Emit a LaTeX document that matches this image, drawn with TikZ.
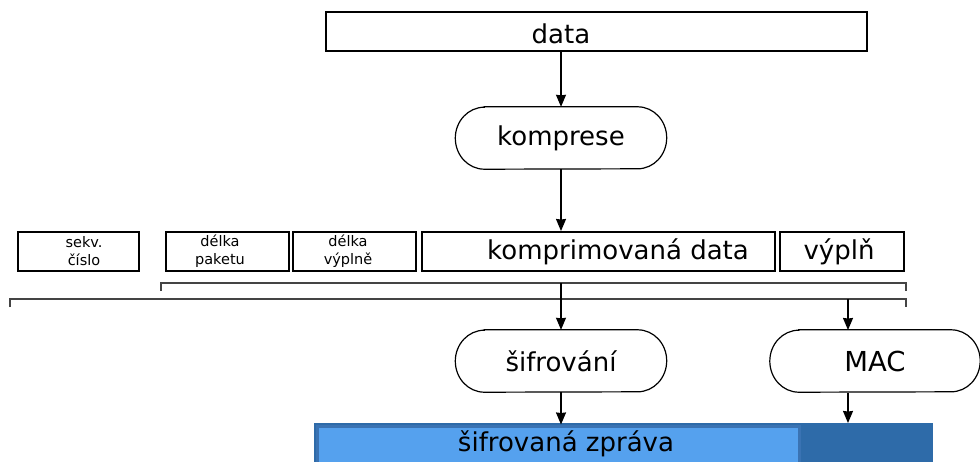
\documentclass[tikz,border=0pt]{standalone}
\usepackage{fontspec}
\setmainfont{DejaVu Sans}
\usetikzlibrary{arrows.meta}
\definecolor{lightblu}{HTML}{55A1EE}
\definecolor{borderblu}{HTML}{3A73B3}
\definecolor{darkblu}{HTML}{2E6BA9}
\definecolor{brk}{HTML}{444444}
\begin{document}
\begin{tikzpicture}[x=1pt,y=-1pt,
  box/.style={draw=black,line width=1.5pt,rectangle,inner sep=0pt,anchor=north west},
  stad/.style={rectangle,minimum width=211pt,minimum height=62pt,inner sep=0pt,font=\fontsize{26}{30}\selectfont},
  big/.style={font=\fontsize{26}{30}\selectfont,inner sep=0pt},
  small/.style={font=\fontsize{14.5}{18}\selectfont,align=center,inner sep=0pt},
  arr/.style={line width=1.2pt,-{Stealth[length=12pt,width=10pt,inset=0.5pt]}},
  brack/.style={line width=1.2pt,draw=brk},
  stadline/.style={line width=1.2pt}]
\useasboundingbox (0,0) rectangle (980,461);
\fill[white] (0,0) rectangle (980,461);
% top box
\node[box,minimum width=541pt,minimum height=39pt] (data) at (325,11) {};
\node[big] at (561,34) {data};
% compress
\node[stad] (komp) at (561,138) {komprese};
% field row
\node[box,minimum width=121pt,minimum height=39pt] (seq) at (17,231) {};
\node[small] at (84,251) {sekv.\\číslo};
\node[box,minimum width=123pt,minimum height=39pt] (dp) at (165,231) {};
\node[small] at (220,251) {délka\\paketu};
\node[box,minimum width=123pt,minimum height=39pt] (dv) at (292,231) {};
\node[small] at (348,251) {délka\\výplně};
\node[box,minimum width=353pt,minimum height=39pt] (kd) at (421,231) {};
\node[big] at (618,252) {komprimovaná data};
\node[box,minimum width=124pt,minimum height=39pt] (vp) at (779,231) {};
\node[big] at (839,252) {výplň};
% brackets
\coordinate (b1l) at (161,283);
\coordinate (b1r) at (906,283);
\coordinate (b2l) at (10,299);
\coordinate (b2r) at (906,299);
\draw[brack] ([yshift=-8pt]b1l) -- (b1l) -- (b1r) -- ([yshift=-8pt]b1r);
\draw[brack] ([yshift=-8pt]b2l) -- (b2l) -- (b2r) -- ([yshift=-8pt]b2r);
% encryption and MAC
\node[stad] (sif) at (561,361) {šifrování};
\node[stad,minimum width=210pt,font=\fontsize{27.5}{30}\selectfont] (mac) at (875,361) {MAC};
\foreach \n in {komp,sif,mac}
  \draw[stadline] ([xshift=29pt]\n.north west) -- ([xshift=-29pt]\n.north east)
    arc[start angle=90,end angle=-90,x radius=29pt,y radius=31pt]
    -- ([xshift=29pt]\n.south west)
    arc[start angle=270,end angle=90,x radius=29pt,y radius=31pt] -- cycle;
\coordinate (s1) at (561,283);
\coordinate (m1) at (848,299);
\coordinate (mtop) at (848,330);
\coordinate (mbot) at (848,393);
% result bar
\fill[darkblu] (314,423) rectangle (933,470);
\node[draw=borderblu,fill=lightblu,line width=3pt,anchor=north west,minimum width=482pt,minimum height=50pt,inner sep=0pt] (enc) at (315.5,424.5) {};
\node[big] at (566,444) {šifrovaná zpráva};
\coordinate (mac2) at (848,423);
% connectors
\draw[arr] (data.south -| komp.north) -- (komp.north);
\draw[arr] (komp.south) -- (komp.south |- kd.north);
\draw[arr] (s1) -- (sif.north);
\draw[arr] (m1) -- (mtop);
\draw[arr] (sif.south) -- (sif.south |- enc.north);
\draw[arr] (mbot) -- (mac2);
\end{tikzpicture}
\end{document}
